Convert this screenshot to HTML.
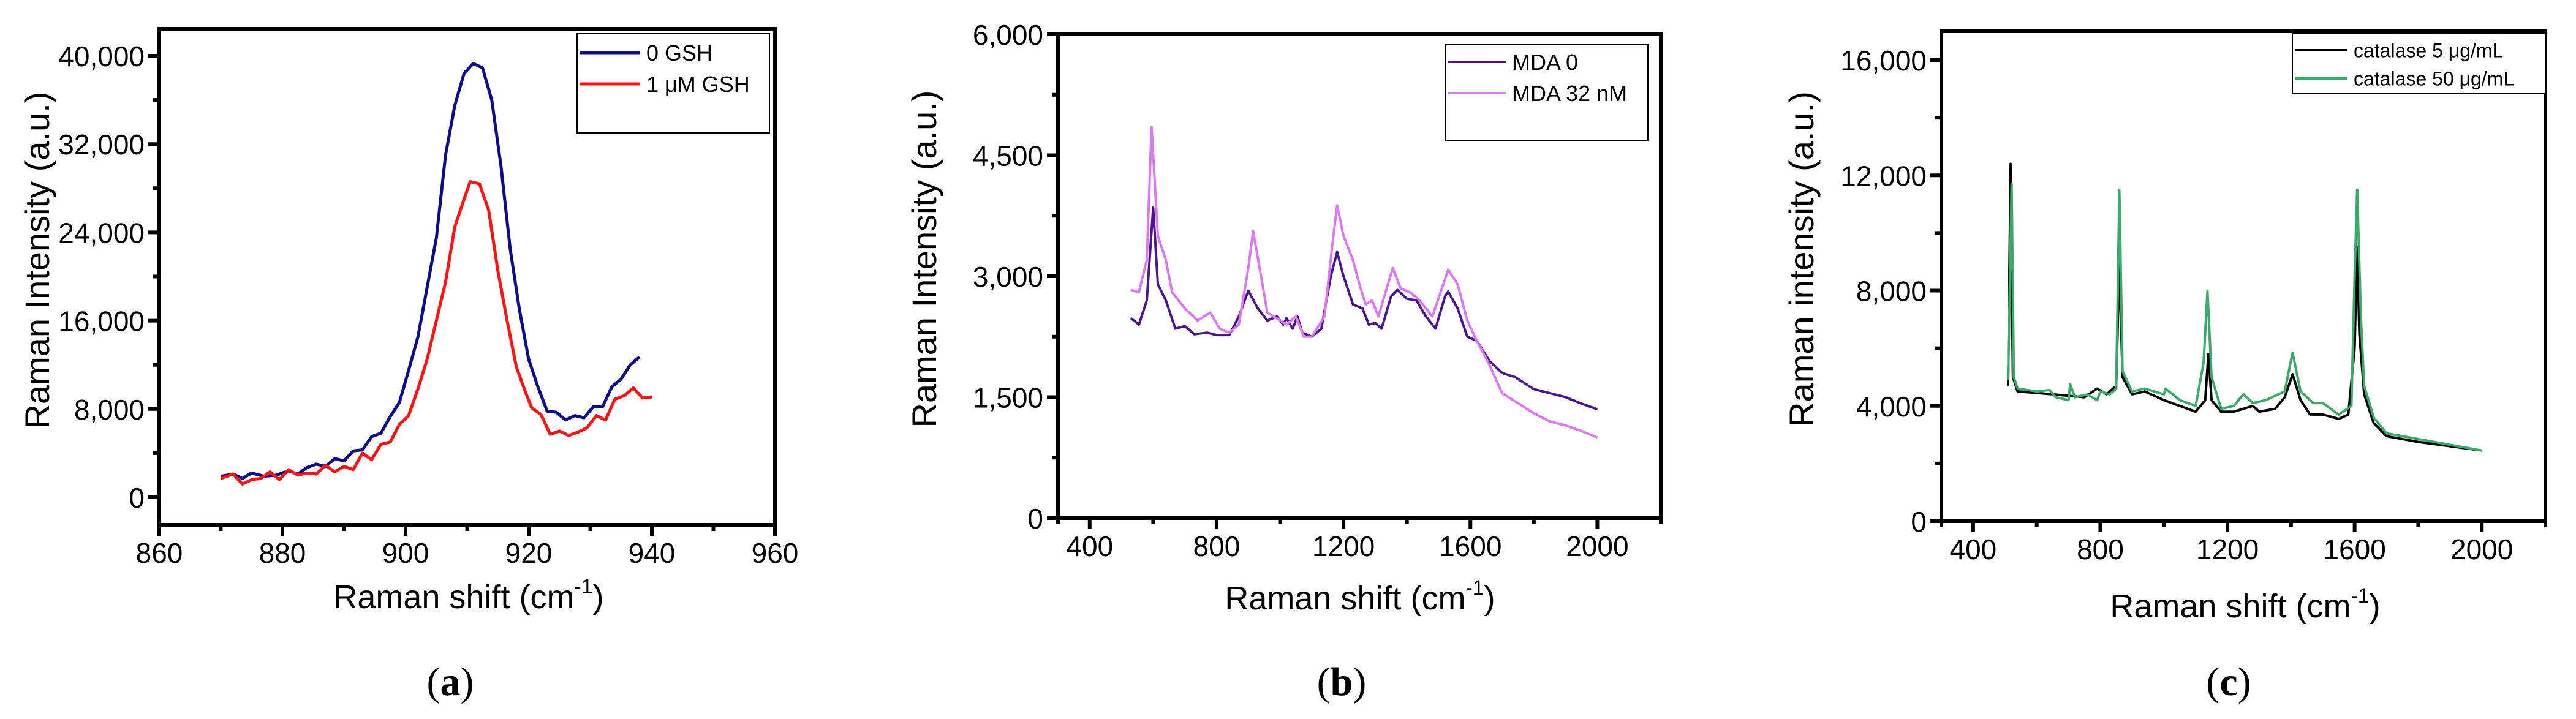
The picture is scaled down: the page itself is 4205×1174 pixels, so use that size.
<!DOCTYPE html>
<html><head><meta charset="utf-8"><style>
html,body{margin:0;padding:0;background:#fff;}
svg{display:block;font-family:"Liberation Sans",Arial,sans-serif;}
</style></head><body>
<svg id="fig" width="4205" height="1174" viewBox="0 0 4205 1174" xmlns="http://www.w3.org/2000/svg"></svg>
<script>
// ---------- Panel (a) data ----------
const aX0 = [870,872,873.5,875,877,879,881,882.5,884,885.5,887,888.5,890,891.5,893,894.5,896,897.5,899,900.5,902,903.5,905,906.5,908,909.5,911,912.5,914,915.5,917,918.5,920,921.5,923,924.5,926,927.5,929,930.5,932,933.5,935,936.5,938];
const aY0 = [1.9,2.1,1.7,2.2,1.9,2.0,2.4,2.1,2.7,3.0,2.8,3.5,3.3,4.2,4.3,5.5,5.8,7.3,8.6,11.5,14.5,19.0,23.5,31.0,35.5,38.4,39.3,38.9,36.0,30.0,22.5,17.0,12.5,10.0,7.8,7.7,7.0,7.4,7.2,8.2,8.2,10.0,10.7,12.0,12.7];
const aX1 = [870,872,873.5,875,876.5,878,879.5,881,882.5,884,885.5,887,888.5,890,891.5,893,894.5,896,897.5,899,900.5,902,903.5,905,906.5,908,909.5,910.5,912,913.5,915,916.5,918,919.5,920.5,922,923.5,925,926.5,928,929.5,931,932.5,934,935.5,937,938.5,940];
const aY1 = [1.7,2.1,1.2,1.6,1.7,2.3,1.6,2.5,2.0,2.2,2.1,2.9,2.3,2.8,2.5,4.0,3.4,4.8,5.0,6.6,7.4,9.8,12.5,16.0,19.5,24.5,27.0,28.6,28.4,26.0,20.5,16.0,11.8,9.5,8.1,7.5,5.7,6.0,5.6,5.9,6.3,7.4,7.0,8.9,9.2,9.9,9.0,9.1];
const aXTicks = [860,880,900,920,940,960];
const aYTicks = [0,8000,16000,24000,32000,40000];
const aYTickLabels = ["0","8,000","16,000","24,000","32,000","40,000"];

// ---------- Panel (b) data ----------
const bX0 = [530,555,580,600,615,640,670,700,730,770,800,840,870,900,930,960,990,1010,1020,1040,1055,1070,1100,1130,1160,1180,1200,1230,1260,1280,1300,1320,1350,1370,1400,1430,1460,1490,1520,1530,1560,1590,1620,1660,1700,1740,1800,1850,1900,1950,2000];
const bY0 = [2480,2400,2700,3850,2900,2700,2350,2380,2280,2300,2270,2270,2500,2820,2600,2450,2500,2400,2480,2350,2500,2300,2250,2350,3000,3300,3000,2650,2600,2400,2420,2350,2750,2830,2720,2700,2500,2350,2750,2810,2600,2250,2200,1950,1800,1750,1600,1550,1500,1420,1350];
const bX1 = [530,555,580,595,615,640,660,700,740,780,810,840,870,900,915,940,960,1000,1020,1050,1075,1100,1140,1165,1180,1200,1230,1250,1270,1290,1310,1340,1355,1380,1410,1440,1480,1510,1530,1560,1590,1620,1660,1700,1740,1800,1850,1900,1950,2000];
const bY1 = [2830,2800,3200,4850,3500,3200,2800,2600,2450,2550,2350,2300,2400,3100,3560,3000,2550,2450,2400,2500,2250,2250,2500,3400,3880,3500,3200,2900,2650,2700,2500,2900,3100,2850,2800,2700,2500,2850,3080,2900,2450,2200,1900,1550,1450,1300,1200,1150,1080,1000];
const bXTicks = [400,800,1200,1600,2000];
const bYTicks = [0,1500,3000,4500,6000];
const bYTickLabels = ["0","1,500","3,000","4,500","6,000"];

// ---------- Panel (c) data ----------
const cX0 = [510,518,525,540,600,650,700,750,790,820,850,860,870,900,940,1000,1050,1100,1130,1140,1150,1180,1220,1250,1280,1300,1350,1380,1405,1430,1460,1500,1550,1580,1600,1608,1615,1630,1660,1700,1800,1900,2000];
const cY0 = [4700,12400,5000,4500,4450,4400,4350,4300,4600,4400,4700,9000,5000,4400,4500,4200,4000,3800,4200,5800,4200,3800,3800,3900,4000,3800,3900,4300,5100,4200,3700,3700,3550,3700,6000,9500,6500,4400,3400,2950,2750,2600,2450];
const cX1 = [510,521,528,540,600,640,660,700,705,720,760,790,800,830,850,860,870,900,940,1000,1005,1050,1100,1125,1137,1150,1180,1220,1250,1280,1320,1380,1405,1430,1470,1500,1550,1590,1600,1608,1620,1630,1660,1700,1800,1900,2000];
const cY1 = [4900,11700,5000,4600,4500,4550,4300,4200,4750,4300,4400,4200,4500,4400,4600,11500,5200,4500,4600,4400,4600,4200,4000,5500,8000,5000,3900,4000,4400,4100,4200,4500,5850,4500,4100,4100,3700,4000,8500,11500,7000,4700,3600,3050,2850,2650,2450];
const cXTicks = [400,800,1200,1600,2000];
const cYTicks = [0,4000,8000,12000,16000];
const cYTickLabels = ["0","4,000","8,000","12,000","16,000"];

const NS = "http://www.w3.org/2000/svg";
const svg = document.getElementById("fig");
function mk(tag, attrs, parent){
  const e = document.createElementNS(NS, tag);
  for (const k in attrs) e.setAttribute(k, attrs[k]);
  (parent||svg).appendChild(e);
  return e;
}
function panel(p){
  const g = mk("g", {});
  
  
  const sx = v => p.L + (v - p.xmin) / (p.xmax - p.xmin) * (p.R - p.L);
  const sy = v => p.B - (v - p.ymin) / (p.ymax - p.ymin) * (p.B - p.T);
  p.series.forEach(s => {
    const pts = s.x.map((xv, i) => sx(xv).toFixed(1) + "," + sy(s.y[i] * s.k).toFixed(1)).join(" ");
    const pl = mk("polyline", {points: pts, fill: "none", stroke: s.color, "stroke-width": s.w, "stroke-linejoin": "round"}, g);
    
    
  });
  const fr = mk("rect", {x: p.L, y: p.T, width: p.R - p.L, height: p.B - p.T, fill: "none", stroke: "#000", "stroke-width": 6}, g);
  
  
  p.xTicks.forEach((t, i) => {
    const x = sx(t);
    mk("line", {x1: x, x2: x, y1: p.B, y2: p.B + 18, stroke: "#000", "stroke-width": 6}, g);
    if (i < p.xTicks.length - 1) {
      const xm = sx((t + p.xTicks[i + 1]) / 2);
      mk("line", {x1: xm, x2: xm, y1: p.B, y2: p.B + 10, stroke: "#000", "stroke-width": 6}, g);
    }
    const tx = mk("text", {x: x, y: p.B + 62, "text-anchor": "middle", "font-size": 46}, g);
    tx.textContent = String(t);
    
    
  });
  if (p.xMinorEnd) { const xm = sx(p.xMinorEnd); mk("line", {x1: xm, x2: xm, y1: p.B, y2: p.B + 10, stroke: "#000", "stroke-width": 6}, g); }
  if (p.xMinorStart) { const xm = sx(p.xMinorStart); mk("line", {x1: xm, x2: xm, y1: p.B, y2: p.B + 10, stroke: "#000", "stroke-width": 6}, g); }
  p.yTicks.forEach((t, i) => {
    const y = sy(t);
    mk("line", {x1: p.L - 18, x2: p.L, y1: y, y2: y, stroke: "#000", "stroke-width": 6}, g);
    if (i < p.yTicks.length - 1) {
      const ym = sy((t + p.yTicks[i + 1]) / 2);
      mk("line", {x1: p.L - 10, x2: p.L, y1: ym, y2: ym, stroke: "#000", "stroke-width": 6}, g);
    }
    const ty = mk("text", {x: p.L - 24, y: y + 17, "text-anchor": "end", "font-size": 46}, g);
    ty.textContent = p.yLabels[i];
    
    
  });
  const xt = mk("text", {x: p.xtX, y: p.xtY, "text-anchor": "middle", "font-size": 54}, g);
  
  
  xt.appendChild(document.createTextNode("Raman shift (cm"));
  const sup = mk("tspan", {"font-size": 34, dy: -24}, xt); sup.textContent = "-1";
  const cl = mk("tspan", {dy: 24}, xt); cl.textContent = ")";
  const yt = mk("text", {x: 0, y: 0, "text-anchor": "middle", "font-size": 56, transform: `translate(${p.ytX},${p.ytY}) rotate(-90)`}, g);
  yt.textContent = p.yTitle;
  
  
  const lg = mk("g", {}, g);
  
  
  mk("rect", {x: p.lg.x, y: p.lg.y, width: p.lg.w, height: p.lg.h, fill: "#fff", stroke: "#000", "stroke-width": 2}, lg);
  p.series.forEach((s, i) => {
    const ry = p.lg.rows[i];
    mk("line", {x1: p.lg.x + 4, x2: p.lg.x + p.lg.lw, y1: ry, y2: ry, stroke: s.color, "stroke-width": s.w}, lg);
    const t = mk("text", {x: p.lg.x + p.lg.lw + 10, y: ry + p.lg.fs * 0.36, "font-size": p.lg.fs}, lg);
    t.textContent = s.label;
    
    
  });
  const pl = mk("text", {x: p.letX, y: p.letY, "text-anchor": "middle", "font-size": 66, "font-family": "Liberation Serif, serif"}, g);
  
  
  pl.appendChild(document.createTextNode("("));
  const b = mk("tspan", {"font-weight": "bold"}, pl); b.textContent = p.letter;
  pl.appendChild(document.createTextNode(")"));
}

panel({name: "panel-a", L: 260, R: 1265, T: 47, B: 857, xmin: 860, xmax: 960, ymin: -2497, ymax: 42441,
  xTicks: aXTicks, yTicks: aYTicks, yLabels: aYTickLabels,
  series: [
    {x: aX0, y: aY0, k: 1000, color: "#0d0d8a", w: 5, label: "0 GSH", dname: "series-0-gsh"},
    {x: aX1, y: aY1, k: 1000, color: "#ff1414", w: 5, label: "1 μM GSH", dname: "series-1um-gsh"}],
  xtX: 765, xtY: 993, ytX: 80, ytY: 425, yTitle: "Raman Intensity (a.u.)",
  lg: {x: 942, y: 55, w: 314, h: 162, lw: 103, fs: 36, rows: [86, 137]},
  letX: 735, letY: 1135, letter: "a"});

panel({name: "panel-b", L: 1727, R: 2711, T: 56, B: 846, xmin: 300, xmax: 2200, ymin: 0, ymax: 6000,
  xTicks: bXTicks, yTicks: bYTicks, yLabels: bYTickLabels, xMinorStart: 300, xMinorEnd: 2200,
  series: [
    {x: bX0, y: bY0, k: 1, color: "#4a158f", w: 4, label: "MDA 0", dname: "series-mda-0"},
    {x: bX1, y: bY1, k: 1, color: "#dc78f2", w: 4, label: "MDA 32 nM", dname: "series-mda-32nm"}],
  xtX: 2220, xtY: 995, ytX: 1528, ytY: 423, yTitle: "Raman Intensity (a.u.)",
  lg: {x: 2360, y: 73, w: 330, h: 157, lw: 98, fs: 36, rows: [101, 152]},
  letX: 2190, letY: 1135, letter: "b"});

panel({name: "panel-c", L: 3169, R: 4155, T: 51, B: 851, xmin: 300, xmax: 2200, ymin: 0, ymax: 17000,
  xTicks: cXTicks, yTicks: cYTicks, yLabels: cYTickLabels, xMinorStart: 300, xMinorEnd: 2200,
  series: [
    {x: cX0, y: cY0, k: 1, color: "#000000", w: 4, label: "catalase 5 μg/mL", dname: "series-catalase-5"},
    {x: cX1, y: cY1, k: 1, color: "#3aaa6a", w: 4, label: "catalase 50 μg/mL", dname: "series-catalase-50"}],
  xtX: 3665, xtY: 1008, ytX: 2960, ytY: 423, yTitle: "Raman intensity (a.u.)",
  lg: {x: 3742, y: 54, w: 413, h: 99, lw: 90, fs: 32, rows: [82, 128]},
  letX: 3638, letY: 1135, letter: "c"});
</script>
</body></html>
